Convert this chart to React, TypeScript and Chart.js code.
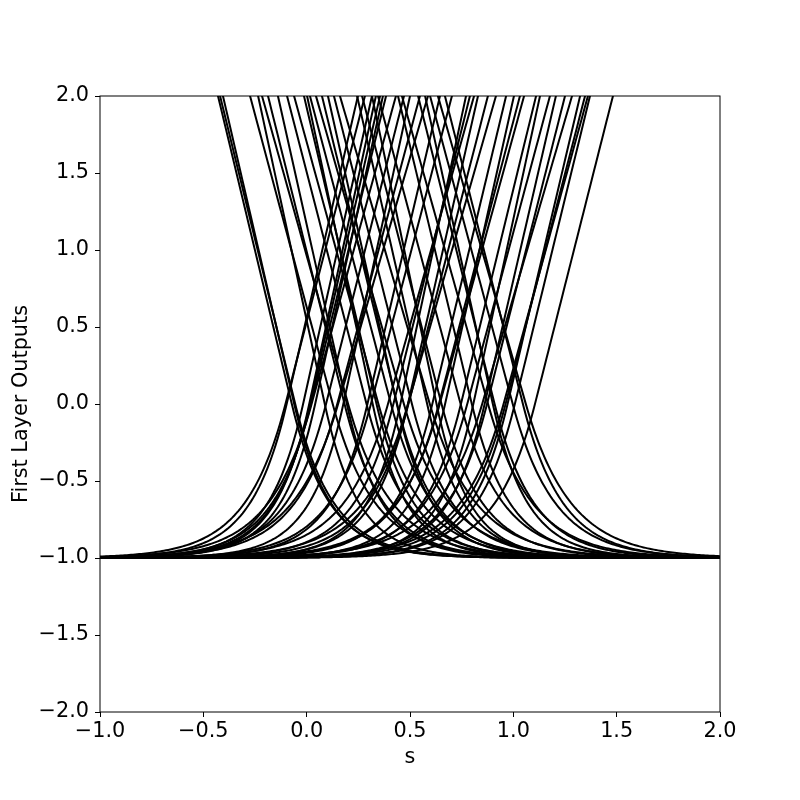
import React, { useEffect, useRef } from "react";
import { Chart, registerables } from "chart.js";

Chart.register(...registerables);

// s-position where each neuron's output line reaches y = 2
const fallingTop = [
  -0.429, -0.419, -0.405, -0.274, -0.235, -0.216, -0.187, -0.139, -0.095, -0.061,
  -0.013, 0.002, 0.016, 0.045, 0.074, 0.103, 0.132, 0.161, 0.244, 0.268,
  0.316, 0.345, 0.442, 0.461, 0.539, 0.573, 0.597, 0.635, 0.669,
];
const fallingSlope = [
  5.6, 5.5, 5.8, 5.0, 6.2, 4.8, 5.4, 6.0, 5.2, 4.9,
  5.7, 6.3, 5.1, 4.7, 5.5, 6.0, 5.3, 4.6, 5.9, 5.2,
  6.4, 5.0, 5.6, 4.8, 5.4, 6.1, 5.0, 4.7, 5.3,
];
const risingTop = [
  0.248, 0.282, 0.316, 0.335, 0.355, 0.369, 0.384, 0.432, 0.471, 0.5,
  0.548, 0.587, 0.645, 0.703, 0.771, 0.79, 0.81, 0.829, 0.877, 0.916,
  0.965, 1.003, 1.032, 1.052, 1.11, 1.129, 1.177, 1.206, 1.25, 1.284,
  1.323, 1.347, 1.361, 1.371, 1.482,
];
const risingSlope = [
  5.8, 5.2, 6.0, 6.2, 5.9, 6.1, 5.5, 4.9, 5.3, 6.2,
  5.0, 4.6, 5.7, 5.1, 6.3, 5.4, 4.8, 5.9, 5.2, 4.7,
  5.6, 6.0, 5.1, 4.9, 5.5, 6.2, 5.0, 5.8, 5.3, 4.6,
  5.7, 5.2, 4.9, 5.5, 5.3,
];

const xTicks = [-1.0, -0.5, 0.0, 0.5, 1.0, 1.5, 2.0];
const yTicks = [-2.0, -1.5, -1.0, -0.5, 0.0, 0.5, 1.0, 1.5, 2.0];

const S_MIN = -1;
const S_MAX = 2;
const SAMPLES = 301;

function elu(z: number) {
  return z > 0 ? z : Math.exp(z) - 1;
}

function fmt(v: number) {
  const s = Math.abs(v).toFixed(1);
  return v < -1e-9 ? "\u2212" + s : s;
}

function buildCurve(top: number, w: number) {
  const b = 2 - w * top;
  const pts: { x: number; y: number }[] = [];
  for (let i = 0; i < SAMPLES; i++) {
    const s = S_MIN + ((S_MAX - S_MIN) * i) / (SAMPLES - 1);
    pts.push({ x: s, y: elu(w * s + b) });
  }
  return pts;
}

const framePlugin = {
  id: "frame",
  afterDraw(chart: any) {
    const { ctx, chartArea } = chart;
    const { left, top, right, bottom } = chartArea;
    ctx.save();
    ctx.strokeStyle = "#000";
    ctx.lineWidth = 1;
    ctx.strokeRect(left, top, right - left, bottom - top);
    ctx.restore();
  },
};

export default function App() {
  const ref = useRef<HTMLCanvasElement | null>(null);

  useEffect(() => {
    if (!ref.current) return;
    const datasets: any[] = [];
    fallingTop.forEach((t, i) => {
      datasets.push({
        data: buildCurve(t, -fallingSlope[i]),
        showLine: true,
        pointRadius: 0,
        borderColor: "#000",
        borderWidth: 2,
        tension: 0,
      });
    });
    risingTop.forEach((t, i) => {
      datasets.push({
        data: buildCurve(t, risingSlope[i]),
        showLine: true,
        pointRadius: 0,
        borderColor: "#000",
        borderWidth: 2,
        tension: 0,
      });
    });

    const font = { family: "DejaVu Sans", size: 20.8 };
    const chart = new Chart(ref.current, {
      type: "scatter",
      data: { datasets },
      plugins: [framePlugin],
      options: {
        animation: false,
        responsive: false,
        devicePixelRatio: 1,
        layout: { padding: { left: 0, top: 96, right: 80, bottom: 0 } },
        plugins: { legend: { display: false }, tooltip: { enabled: false } },
        scales: {
          x: {
            type: "linear",
            min: S_MIN,
            max: S_MAX,
            afterFit: (scale: any) => {
              scale.height = 88;
            },
            afterBuildTicks: (scale: any) => {
              scale.ticks = xTicks.map((v) => ({ value: v }));
            },
            ticks: {
              color: "#000",
              font,
              padding: 2,
              maxRotation: 0,
              autoSkip: false,
              callback: (v: any) => fmt(Number(v)),
            },
            grid: {
              display: true,
              drawOnChartArea: false,
              drawTicks: true,
              tickLength: 5,
              tickColor: "#000",
              tickWidth: 1,
            },
            border: { display: false },
            title: {
              display: true,
              text: "s",
              color: "#000",
              font,
              padding: { top: 0, bottom: 30 },
            },
          },
          y: {
            type: "linear",
            min: -2,
            max: 2,
            afterFit: (scale: any) => {
              scale.width = 100;
            },
            afterBuildTicks: (scale: any) => {
              scale.ticks = yTicks.map((v) => ({ value: v }));
            },
            ticks: {
              color: "#000",
              font,
              padding: 6,
              autoSkip: false,
              callback: (v: any) => fmt(Number(v)),
            },
            grid: {
              display: true,
              drawOnChartArea: false,
              drawTicks: true,
              tickLength: 5,
              tickColor: "#000",
              tickWidth: 1,
            },
            border: { display: false },
            title: {
              display: true,
              text: "First Layer Outputs",
              color: "#000",
              font,
              padding: { top: 9, bottom: 0 },
            },
          },
        },
      } as any,
    });
    return () => chart.destroy();
  }, []);

  return (
    <div style={{ position: "absolute", left: 0, top: 0, width: 800, height: 800, background: "#fff" }}>
      <canvas ref={ref} width={800} height={800} style={{ width: 800, height: 800 }} />
    </div>
  );
}
